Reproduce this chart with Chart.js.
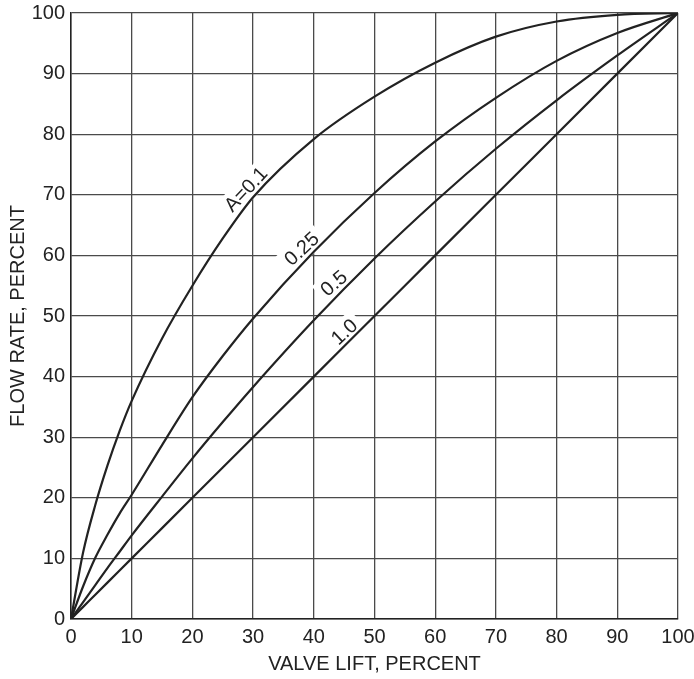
<!DOCTYPE html>
<html>
<head>
<meta charset="utf-8">
<script src="https://cdn.jsdelivr.net/npm/chart.js@4.4.0/dist/chart.umd.min.js"></script>
<style>
  html, body { margin: 0; padding: 0; background: #fff; }
  #wrap { width: 694px; height: 679px; }
</style>
</head>
<body>
<div id="wrap"><canvas id="flowChart"></canvas></div>
<script>
// valve lift (%) and installed flow (%) for each pressure-drop ratio A
const valveLift = [0, 2, 4, 6, 8, 10, 15, 20, 25, 30, 40, 50, 60, 70, 80, 90, 100];
const flowA010 = [0, 11, 18.8, 25.3, 31, 36, 46.3, 55, 62.8, 69.6, 79.2, 86.2, 91.8, 96.1, 98.6, 99.7, 100];
const flowA025 = [0, 5.4, 10.1, 13.9, 17.4, 20.5, 28.7, 36.6, 43.4, 49.6, 60.6, 70.3, 78.8, 86, 92.1, 96.7, 100];
const flowA050 = [0, 2.8, 5.6, 8.4, 11.1, 13.8, 20.2, 26.5, 32.5, 38.3, 49.3, 59.5, 68.9, 77.6, 85.6, 93, 100];
const flowA100 = [0, 2, 4, 6, 8, 10, 15, 20, 25, 30, 40, 50, 60, 70, 80, 90, 100];
const axisTicks = [0, 10, 20, 30, 40, 50, 60, 70, 80, 90, 100];

// curve names written along the lines
const curveLabels = [
  { text: 'A=0.1', x: 28.8, y: 70.9, angle: -47 },
  { text: '0.25', x: 38.0, y: 61.1, angle: -43 },
  { text: '0.5', x: 43.3, y: 55.4, angle: -41 },
  { text: '1.0', x: 45.0, y: 47.4, angle: -43 }
];

const inkColor = '#222';
const gridColor = '#4a4a4a';
const tickFont = { family: '"Liberation Sans", Arial, sans-serif', size: 20 };
const titleFont = { family: '"Liberation Sans", Arial, sans-serif', size: 20 };

const toPoints = (values) => valveLift.map((v, i) => ({ x: v, y: values[i] }));

const drawCurveLabels = (chart, boxOnly) => {
  const { ctx, scales: { x, y } } = chart;
  ctx.save();
  ctx.font = `20px ${tickFont.family}`;
  for (let lbl of curveLabels) {
    let px = x.getPixelForValue(lbl.x);
    let py = y.getPixelForValue(lbl.y);
    let w = ctx.measureText(lbl.text).width;
    ctx.save();
    ctx.translate(px, py);
    ctx.rotate(lbl.angle * Math.PI / 180);
    if (boxOnly) {
      ctx.fillStyle = '#fff';
      ctx.fillRect(-w / 2 - 5, -12, w + 10, 24);
    } else {
      ctx.fillStyle = inkColor;
      ctx.textAlign = 'center';
      ctx.textBaseline = 'middle';
      ctx.fillText(lbl.text, 0, 1);
    }
    ctx.restore();
  }
  ctx.restore();
};

const curveLabelPlugin = {
  id: 'curveLabels',
  beforeDatasetsDraw(chart) { drawCurveLabels(chart, true); },
  afterDatasetsDraw(chart) { drawCurveLabels(chart, false); }
};

const makeCurve = (label, values) => ({
  label: label,
  data: toPoints(values),
  borderColor: inkColor,
  borderWidth: 2.2,
  pointRadius: 0,
  fill: false,
  cubicInterpolationMode: 'monotone'
});

const useTicks = (scale) => {
  scale.ticks = axisTicks.map(v => ({ value: v }));
};

new Chart(document.getElementById('flowChart'), {
  type: 'line',
  data: {
    datasets: [
      makeCurve('A=0.1', flowA010),
      makeCurve('0.25', flowA025),
      makeCurve('0.5', flowA050),
      makeCurve('1.0', flowA100)
    ]
  },
  options: {
    responsive: true,
    maintainAspectRatio: false,
    animation: false,
    layout: { padding: { top: 13, right: 16, left: 0, bottom: 0 } },
    plugins: {
      legend: { display: false },
      tooltip: { enabled: false }
    },
    scales: {
      x: {
        type: 'linear',
        min: 0,
        max: 100,
        afterBuildTicks: useTicks,
        afterFit: (scale) => {
          scale.height = 60;
          scale.paddingLeft = 0;
          scale.paddingRight = 0;
        },
        border: { color: inkColor, width: 1.5 },
        grid: { color: gridColor, lineWidth: 1.3, drawTicks: false },
        ticks: { color: inkColor, font: tickFont, padding: 6, maxRotation: 0 },
        title: {
          display: true,
          text: 'VALVE LIFT, PERCENT',
          color: inkColor,
          font: titleFont,
          padding: { top: 0, bottom: 3 }
        }
      },
      y: {
        type: 'linear',
        min: 0,
        max: 100,
        afterBuildTicks: useTicks,
        afterFit: (scale) => {
          scale.width = 71;
          scale.paddingTop = 0;
          scale.paddingBottom = 0;
        },
        border: { color: inkColor, width: 1.5 },
        grid: { color: gridColor, lineWidth: 1.3, drawTicks: false },
        ticks: { color: inkColor, font: tickFont, padding: 6 },
        title: {
          display: true,
          text: 'FLOW RATE, PERCENT',
          color: inkColor,
          font: titleFont,
          padding: { top: 6, bottom: 0 }
        }
      }
    }
  },
  plugins: [curveLabelPlugin]
});
</script>
</body>
</html>
